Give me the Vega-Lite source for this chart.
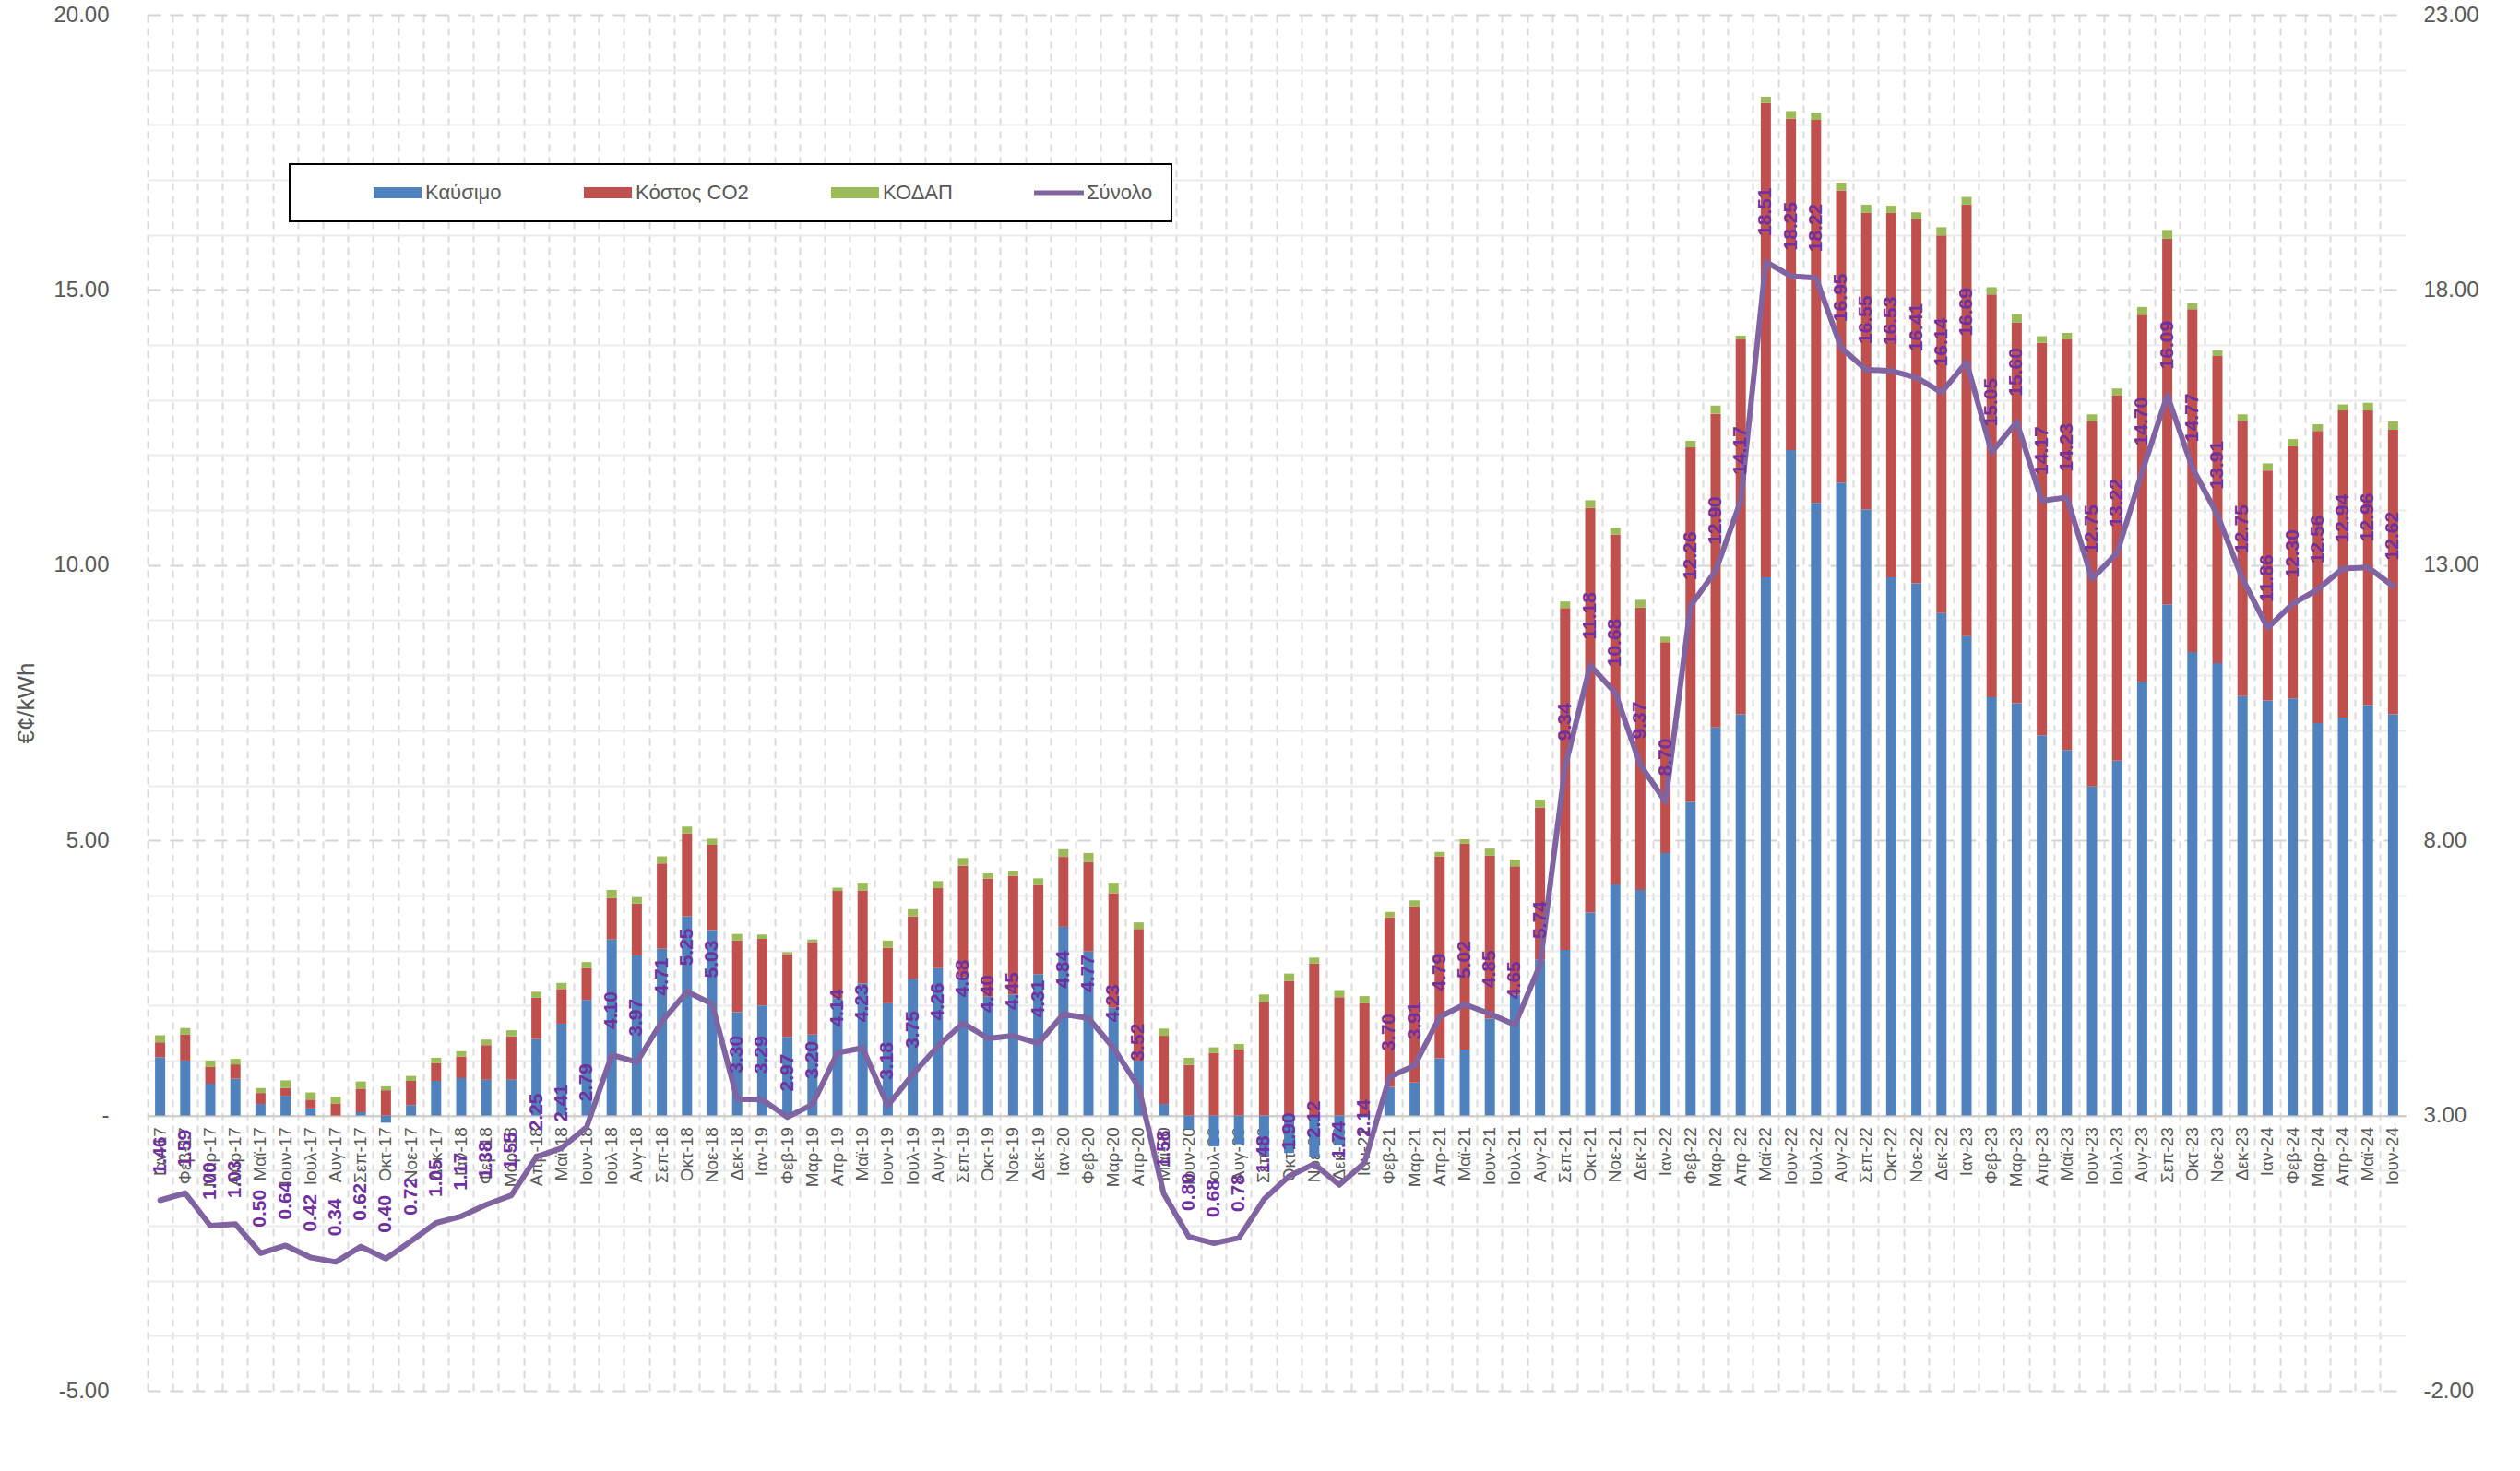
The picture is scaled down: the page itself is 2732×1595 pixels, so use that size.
{
  "$schema": "https://vega.github.io/schema/vega-lite/v6.json",
  "autosize": {"type": "none"},
  "padding": {"left": 160, "top": 16, "right": 124, "bottom": 87},
  "width": 2448,
  "height": 1492,
  "background": "#ffffff",
  "config": {
    "view": {"stroke": null},
    "font": "Liberation Sans"
  },
  "data": {"values": [
    {"m":"Ιαν-17","Καύσιμο":1.06,"Κόστος CO2":0.27,"ΚΟΔΑΠ":0.13,"Σύνολο":1.46},
    {"m":"Φεβ-17","Καύσιμο":1.00,"Κόστος CO2":0.47,"ΚΟΔΑΠ":0.12,"Σύνολο":1.59},
    {"m":"Μαρ-17","Καύσιμο":0.58,"Κόστος CO2":0.31,"ΚΟΔΑΠ":0.11,"Σύνολο":1.00},
    {"m":"Απρ-17","Καύσιμο":0.67,"Κόστος CO2":0.26,"ΚΟΔΑΠ":0.10,"Σύνολο":1.03},
    {"m":"Μαϊ-17","Καύσιμο":0.21,"Κόστος CO2":0.20,"ΚΟΔΑΠ":0.09,"Σύνολο":0.50},
    {"m":"Ιουν-17","Καύσιμο":0.36,"Κόστος CO2":0.14,"ΚΟΔΑΠ":0.14,"Σύνολο":0.64},
    {"m":"Ιουλ-17","Καύσιμο":0.13,"Κόστος CO2":0.16,"ΚΟΔΑΠ":0.13,"Σύνολο":0.42},
    {"m":"Αυγ-17","Καύσιμο":0.00,"Κόστος CO2":0.22,"ΚΟΔΑΠ":0.12,"Σύνολο":0.34},
    {"m":"Σεπ-17","Καύσιμο":0.06,"Κόστος CO2":0.43,"ΚΟΔΑΠ":0.13,"Σύνολο":0.62},
    {"m":"Οκτ-17","Καύσιμο":-0.13,"Κόστος CO2":0.46,"ΚΟΔΑΠ":0.07,"Σύνολο":0.40},
    {"m":"Νοε-17","Καύσιμο":0.19,"Κόστος CO2":0.44,"ΚΟΔΑΠ":0.09,"Σύνολο":0.72},
    {"m":"Δεκ-17","Καύσιμο":0.63,"Κόστος CO2":0.32,"ΚΟΔΑΠ":0.10,"Σύνολο":1.05},
    {"m":"Ιαν-18","Καύσιμο":0.68,"Κόστος CO2":0.39,"ΚΟΔΑΠ":0.10,"Σύνολο":1.17},
    {"m":"Φεβ-18","Καύσιμο":0.65,"Κόστος CO2":0.63,"ΚΟΔΑΠ":0.10,"Σύνολο":1.38},
    {"m":"Μαρ-18","Καύσιμο":0.65,"Κόστος CO2":0.79,"ΚΟΔΑΠ":0.11,"Σύνολο":1.55},
    {"m":"Απρ-18","Καύσιμο":1.39,"Κόστος CO2":0.75,"ΚΟΔΑΠ":0.11,"Σύνολο":2.25},
    {"m":"Μαϊ-18","Καύσιμο":1.67,"Κόστος CO2":0.63,"ΚΟΔΑΠ":0.11,"Σύνολο":2.41},
    {"m":"Ιουν-18","Καύσιμο":2.10,"Κόστος CO2":0.58,"ΚΟΔΑΠ":0.11,"Σύνολο":2.79},
    {"m":"Ιουλ-18","Καύσιμο":3.20,"Κόστος CO2":0.75,"ΚΟΔΑΠ":0.15,"Σύνολο":4.10},
    {"m":"Αυγ-18","Καύσιμο":2.91,"Κόστος CO2":0.94,"ΚΟΔΑΠ":0.12,"Σύνολο":3.97},
    {"m":"Σεπ-18","Καύσιμο":3.03,"Κόστος CO2":1.55,"ΚΟΔΑΠ":0.13,"Σύνολο":4.71},
    {"m":"Οκτ-18","Καύσιμο":3.62,"Κόστος CO2":1.51,"ΚΟΔΑΠ":0.12,"Σύνολο":5.25},
    {"m":"Νοε-18","Καύσιμο":3.37,"Κόστος CO2":1.55,"ΚΟΔΑΠ":0.11,"Σύνολο":5.03},
    {"m":"Δεκ-18","Καύσιμο":1.88,"Κόστος CO2":1.30,"ΚΟΔΑΠ":0.12,"Σύνολο":3.30},
    {"m":"Ιαν-19","Καύσιμο":2.00,"Κόστος CO2":1.21,"ΚΟΔΑΠ":0.08,"Σύνολο":3.29},
    {"m":"Φεβ-19","Καύσιμο":1.43,"Κόστος CO2":1.50,"ΚΟΔΑΠ":0.04,"Σύνολο":2.97},
    {"m":"Μαρ-19","Καύσιμο":1.47,"Κόστος CO2":1.68,"ΚΟΔΑΠ":0.05,"Σύνολο":3.20},
    {"m":"Απρ-19","Καύσιμο":2.13,"Κόστος CO2":1.95,"ΚΟΔΑΠ":0.06,"Σύνολο":4.14},
    {"m":"Μαϊ-19","Καύσιμο":2.40,"Κόστος CO2":1.69,"ΚΟΔΑΠ":0.14,"Σύνολο":4.23},
    {"m":"Ιουν-19","Καύσιμο":2.04,"Κόστος CO2":1.01,"ΚΟΔΑΠ":0.13,"Σύνολο":3.18},
    {"m":"Ιουλ-19","Καύσιμο":2.48,"Κόστος CO2":1.14,"ΚΟΔΑΠ":0.13,"Σύνολο":3.75},
    {"m":"Αυγ-19","Καύσιμο":2.68,"Κόστος CO2":1.45,"ΚΟΔΑΠ":0.13,"Σύνολο":4.26},
    {"m":"Σεπ-19","Καύσιμο":2.52,"Κόστος CO2":2.02,"ΚΟΔΑΠ":0.14,"Σύνολο":4.68},
    {"m":"Οκτ-19","Καύσιμο":2.16,"Κόστος CO2":2.15,"ΚΟΔΑΠ":0.09,"Σύνολο":4.40},
    {"m":"Νοε-19","Καύσιμο":2.20,"Κόστος CO2":2.16,"ΚΟΔΑΠ":0.09,"Σύνολο":4.45},
    {"m":"Δεκ-19","Καύσιμο":2.57,"Κόστος CO2":1.62,"ΚΟΔΑΠ":0.12,"Σύνολο":4.31},
    {"m":"Ιαν-20","Καύσιμο":3.43,"Κόστος CO2":1.27,"ΚΟΔΑΠ":0.14,"Σύνολο":4.84},
    {"m":"Φεβ-20","Καύσιμο":2.98,"Κόστος CO2":1.63,"ΚΟΔΑΠ":0.16,"Σύνολο":4.77},
    {"m":"Μαρ-20","Καύσιμο":1.96,"Κόστος CO2":2.08,"ΚΟΔΑΠ":0.19,"Σύνολο":4.23},
    {"m":"Απρ-20","Καύσιμο":1.00,"Κόστος CO2":2.39,"ΚΟΔΑΠ":0.12,"Σύνολο":3.52},
    {"m":"Μαϊ-20","Καύσιμο":0.21,"Κόστος CO2":1.24,"ΚΟΔΑΠ":0.13,"Σύνολο":1.58},
    {"m":"Ιουν-20","Καύσιμο":-0.25,"Κόστος CO2":0.92,"ΚΟΔΑΠ":0.13,"Σύνολο":0.80},
    {"m":"Ιουλ-20","Καύσιμο":-0.56,"Κόστος CO2":1.14,"ΚΟΔΑΠ":0.10,"Σύνολο":0.68},
    {"m":"Αυγ-20","Καύσιμο":-0.52,"Κόστος CO2":1.20,"ΚΟΔΑΠ":0.10,"Σύνολο":0.78},
    {"m":"Σεπ-20","Καύσιμο":-0.72,"Κόστος CO2":2.06,"ΚΟΔΑΠ":0.14,"Σύνολο":1.48},
    {"m":"Οκτ-20","Καύσιμο":-0.68,"Κόστος CO2":2.45,"ΚΟΔΑΠ":0.13,"Σύνολο":1.90},
    {"m":"Νοε-20","Καύσιμο":-0.75,"Κόστος CO2":2.76,"ΚΟΔΑΠ":0.11,"Σύνολο":2.12},
    {"m":"Δεκ-20","Καύσιμο":-0.54,"Κόστος CO2":2.15,"ΚΟΔΑΠ":0.13,"Σύνολο":1.74},
    {"m":"Ιαν-21","Καύσιμο":-0.03,"Κόστος CO2":2.04,"ΚΟΔΑΠ":0.13,"Σύνολο":2.14},
    {"m":"Φεβ-21","Καύσιμο":0.52,"Κόστος CO2":3.08,"ΚΟΔΑΠ":0.10,"Σύνολο":3.70},
    {"m":"Μαρ-21","Καύσιμο":0.60,"Κόστος CO2":3.20,"ΚΟΔΑΠ":0.11,"Σύνολο":3.91},
    {"m":"Απρ-21","Καύσιμο":1.04,"Κόστος CO2":3.67,"ΚΟΔΑΠ":0.08,"Σύνολο":4.79},
    {"m":"Μαϊ-21","Καύσιμο":1.20,"Κόστος CO2":3.74,"ΚΟΔΑΠ":0.08,"Σύνολο":5.02},
    {"m":"Ιουν-21","Καύσιμο":1.76,"Κόστος CO2":2.96,"ΚΟΔΑΠ":0.13,"Σύνολο":4.85},
    {"m":"Ιουλ-21","Καύσιμο":2.20,"Κόστος CO2":2.33,"ΚΟΔΑΠ":0.12,"Σύνολο":4.65},
    {"m":"Αυγ-21","Καύσιμο":2.83,"Κόστος CO2":2.77,"ΚΟΔΑΠ":0.14,"Σύνολο":5.74},
    {"m":"Σεπ-21","Καύσιμο":3.01,"Κόστος CO2":6.21,"ΚΟΔΑΠ":0.12,"Σύνολο":9.34},
    {"m":"Οκτ-21","Καύσιμο":3.69,"Κόστος CO2":7.35,"ΚΟΔΑΠ":0.14,"Σύνολο":11.18},
    {"m":"Νοε-21","Καύσιμο":4.20,"Κόστος CO2":6.36,"ΚΟΔΑΠ":0.12,"Σύνολο":10.68},
    {"m":"Δεκ-21","Καύσιμο":4.10,"Κόστος CO2":5.13,"ΚΟΔΑΠ":0.14,"Σύνολο":9.37},
    {"m":"Ιαν-22","Καύσιμο":4.77,"Κόστος CO2":3.83,"ΚΟΔΑΠ":0.10,"Σύνολο":8.70},
    {"m":"Φεβ-22","Καύσιμο":5.70,"Κόστος CO2":6.44,"ΚΟΔΑΠ":0.12,"Σύνολο":12.26},
    {"m":"Μαρ-22","Καύσιμο":7.05,"Κόστος CO2":5.70,"ΚΟΔΑΠ":0.15,"Σύνολο":12.90},
    {"m":"Απρ-22","Καύσιμο":7.29,"Κόστος CO2":6.81,"ΚΟΔΑΠ":0.07,"Σύνολο":14.17},
    {"m":"Μαϊ-22","Καύσιμο":9.78,"Κόστος CO2":8.62,"ΚΟΔΑΠ":0.11,"Σύνολο":18.51},
    {"m":"Ιουν-22","Καύσιμο":12.09,"Κόστος CO2":6.02,"ΚΟΔΑΠ":0.14,"Σύνολο":18.25},
    {"m":"Ιουλ-22","Καύσιμο":11.13,"Κόστος CO2":6.96,"ΚΟΔΑΠ":0.13,"Σύνολο":18.22},
    {"m":"Αυγ-22","Καύσιμο":11.50,"Κόστος CO2":5.31,"ΚΟΔΑΠ":0.14,"Σύνολο":16.95},
    {"m":"Σεπ-22","Καύσιμο":11.01,"Κόστος CO2":5.39,"ΚΟΔΑΠ":0.15,"Σύνολο":16.55},
    {"m":"Οκτ-22","Καύσιμο":9.78,"Κόστος CO2":6.62,"ΚΟΔΑΠ":0.13,"Σύνολο":16.53},
    {"m":"Νοε-22","Καύσιμο":9.67,"Κόστος CO2":6.62,"ΚΟΔΑΠ":0.12,"Σύνολο":16.41},
    {"m":"Δεκ-22","Καύσιμο":9.13,"Κόστος CO2":6.86,"ΚΟΔΑΠ":0.15,"Σύνολο":16.14},
    {"m":"Ιαν-23","Καύσιμο":8.71,"Κόστος CO2":7.84,"ΚΟΔΑΠ":0.14,"Σύνολο":16.69},
    {"m":"Φεβ-23","Καύσιμο":7.60,"Κόστος CO2":7.32,"ΚΟΔΑΠ":0.13,"Σύνολο":15.05},
    {"m":"Μαρ-23","Καύσιμο":7.49,"Κόστος CO2":6.92,"ΚΟΔΑΠ":0.15,"Σύνολο":15.60},
    {"m":"Απρ-23","Καύσιμο":6.91,"Κόστος CO2":7.13,"ΚΟΔΑΠ":0.12,"Σύνολο":14.17},
    {"m":"Μαϊ-23","Καύσιμο":6.64,"Κόστος CO2":7.46,"ΚΟΔΑΠ":0.12,"Σύνολο":14.23},
    {"m":"Ιουν-23","Καύσιμο":5.98,"Κόστος CO2":6.63,"ΚΟΔΑΠ":0.13,"Σύνολο":12.75},
    {"m":"Ιουλ-23","Καύσιμο":6.45,"Κόστος CO2":6.63,"ΚΟΔΑΠ":0.13,"Σύνολο":13.22},
    {"m":"Αυγ-23","Καύσιμο":7.88,"Κόστος CO2":6.67,"ΚΟΔΑΠ":0.14,"Σύνολο":14.70},
    {"m":"Σεπ-23","Καύσιμο":9.29,"Κόστος CO2":6.64,"ΚΟΔΑΠ":0.16,"Σύνολο":16.09},
    {"m":"Οκτ-23","Καύσιμο":8.42,"Κόστος CO2":6.23,"ΚΟΔΑΠ":0.11,"Σύνολο":14.77},
    {"m":"Νοε-23","Καύσιμο":8.22,"Κόστος CO2":5.58,"ΚΟΔΑΠ":0.10,"Σύνολο":13.91},
    {"m":"Δεκ-23","Καύσιμο":7.62,"Κόστος CO2":5.00,"ΚΟΔΑΠ":0.12,"Σύνολο":12.75},
    {"m":"Ιαν-24","Καύσιμο":7.54,"Κόστος CO2":4.18,"ΚΟΔΑΠ":0.13,"Σύνολο":11.86},
    {"m":"Φεβ-24","Καύσιμο":7.58,"Κόστος CO2":4.58,"ΚΟΔΑΠ":0.13,"Σύνολο":12.30},
    {"m":"Μαρ-24","Καύσιμο":7.13,"Κόστος CO2":5.31,"ΚΟΔΑΠ":0.12,"Σύνολο":12.56},
    {"m":"Απρ-24","Καύσιμο":7.23,"Κόστος CO2":5.58,"ΚΟΔΑΠ":0.11,"Σύνολο":12.94},
    {"m":"Μαϊ-24","Καύσιμο":7.46,"Κόστος CO2":5.35,"ΚΟΔΑΠ":0.14,"Σύνολο":12.96},
    {"m":"Ιουν-24","Καύσιμο":7.29,"Κόστος CO2":5.17,"ΚΟΔΑΠ":0.15,"Σύνολο":12.62}
  ]},
  "layer": [
    {
      "transform": [
        {"fold": ["Καύσιμο", "Κόστος CO2", "ΚΟΔΑΠ"], "as": ["series", "value"]},
        {"window": [{"op": "row_number", "as": "stackIdx"}], "groupby": ["m"]}
      ],
      "mark": {"type": "bar", "size": 11},
      "encoding": {
        "x": {
          "field": "m", "type": "nominal", "sort": null,
          "scale": {"paddingInner": 0, "paddingOuter": 0},
          "axis": {
            "title": null,
            "offset": -298.4,
            "labelAngle": -90,
            "labelFontSize": 19,
            "labelColor": "#595959",
            "labelPadding": 12,
            "ticks": false,
            "domain": true,
            "domainColor": "#D0D0D0",
            "domainWidth": 2,
            "grid": true,
            "bandPosition": 0,
            "gridDash": [8, 6],
            "gridColor": "#DADADA",
            "gridWidth": 2,
            "labelOverlap": false
          }
        },
        "y": {
          "field": "value", "type": "quantitative", "stack": "zero",
          "scale": {"domain": [-5, 20], "nice": false, "zero": false},
          "axis": {
            "title": "€¢/kWh",
            "titleFontSize": 26,
            "titleFontWeight": "normal",
            "titleColor": "#595959",
            "titlePadding": 16,
            "values": [-5,-4,-3,-2,-1,0,1,2,3,4,5,6,7,8,9,10,11,12,13,14,15,16,17,18,19,20],
            "labelExpr": "datum.value % 5 === 0 ? (datum.value === 0 ? '-' : replace(format(datum.value, '.2f'), '−', '-')) : ''",
            "labelFontSize": 24,
            "labelColor": "#595959",
            "labelPadding": 42,
            "ticks": false,
            "domain": false,
            "grid": true,
            "gridWidth": 2,
            "gridColor": {"condition": {"test": "datum.value % 5 === 0", "value": "#D4D4D4"}, "value": "#EBEBEB"},
            "gridDash": {"condition": {"test": "datum.value % 5 === 0 && datum.value !== 0", "value": [14, 10]}, "value": []}
          }
        },
        "order": {"field": "stackIdx", "type": "quantitative", "sort": "ascending"},
        "color": {
          "field": "series", "type": "nominal",
          "scale": {
            "domain": ["Καύσιμο", "Κόστος CO2", "ΚΟΔΑΠ", "Σύνολο"],
            "range": ["#4F81BD", "#C0504D", "#9BBB59", "#8064A2"]
          },
          "legend": {
            "title": "\u00a0\u00a0\u00a0\u00a0\u00a0\u00a0\u00a0\u00a0\u00a0",
            "titleOrient": "right",
            "titleFontSize": 22,
            "titlePadding": 0,
            "orient": "none",
            "direction": "horizontal",
            "columns": 4,
            "legendX": 154,
            "legendY": 162,
            "padding": 20,
            "strokeColor": "#000000",
            "fillColor": "#ffffff",
            "symbolSize": 400,
            "symbolOffset": 86,
            "labelOffset": 19,
            "columnPadding": 18,
            "labelFontSize": 22,
            "labelColor": "#595959",
            "labelLimit": 500,
            "encode": {
              "symbols": {"update": {
                "shape": {"signal": "datum.value === 'Σύνολο' ? 'M-2.7,-0.24H2.7V0.24H-2.7Z' : 'M-2.6,-0.6H2.6V0.6H-2.6Z'"},
                "fill": {"scale": "color", "field": "value"},
                "stroke": {"value": "transparent"},
                "strokeWidth": {"value": 0},
                "opacity": {"value": 1}
              }},
              "legend": {"update": {"strokeWidth": {"value": 2}}}
            }
          }
        }
      }
    },
    {
      "layer": [
        {
          "mark": {"type": "line", "strokeWidth": 6, "strokeJoin": "round", "strokeCap": "round"},
          "encoding": {
            "x": {"field": "m", "type": "nominal", "sort": null},
            "y": {
              "field": "Σύνολο", "type": "quantitative",
              "scale": {"domain": [-2, 23], "nice": false, "zero": false},
              "axis": {
                "orient": "right",
                "title": null,
                "values": [-2, 3, 8, 13, 18, 23],
                "labelExpr": "replace(format(datum.value, '.2f'), '−', '-')",
                "labelFontSize": 24,
                "labelColor": "#595959",
                "labelPadding": 19,
                "ticks": false,
                "domain": false,
                "grid": false
              }
            },
            "color": {"datum": "Σύνολο"}
          }
        },
        {
          "mark": {"type": "text", "angle": 270, "align": "left", "baseline": "middle", "dx": 28, "fontSize": 21, "fontWeight": "bold", "color": "#7030A0"},
          "encoding": {
            "x": {"field": "m", "type": "nominal", "sort": null},
            "y": {"field": "Σύνολο", "type": "quantitative"},
            "text": {"field": "Σύνολο", "type": "quantitative", "format": ".2f"}
          }
        }
      ]
    }
  ],
  "resolve": {"scale": {"y": "independent"}}
}
